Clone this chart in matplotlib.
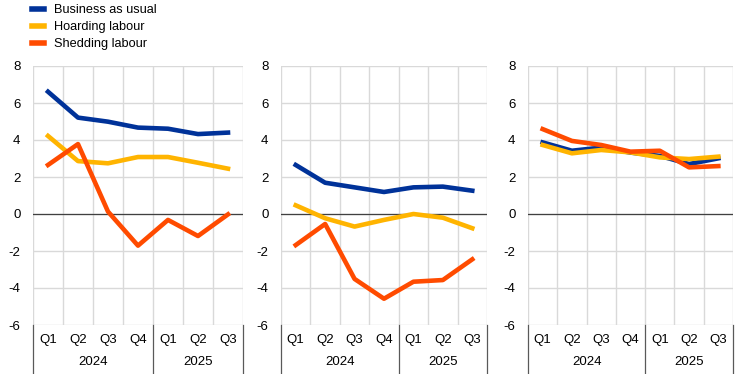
import matplotlib
matplotlib.use('Agg')
import matplotlib.pyplot as plt
from matplotlib.lines import Line2D

plt.rcParams['font.family'] = ['Liberation Sans', 'DejaVu Sans']

# categories
quarters = ['Q1', 'Q2', 'Q3', 'Q4', 'Q1', 'Q2', 'Q3']
years = ['2024', '2025']
year_spans = [(0, 4), (4, 7)]

series_names = ['Business as usual', 'Hoarding labour', 'Shedding labour']
colors = ['#003299', '#FFB400', '#FF4B00']

# panel 1
p1_bau = [6.61, 5.21, 4.99, 4.67, 4.61, 4.32, 4.40]
p1_hoard = [4.22, 2.86, 2.74, 3.08, 3.08, 2.77, 2.45]
p1_shed = [2.65, 3.78, 0.13, -1.71, -0.32, -1.19, -0.02]

# panel 2
p2_bau = [2.65, 1.69, 1.44, 1.19, 1.44, 1.48, 1.26]
p2_hoard = [0.47, -0.23, -0.68, -0.32, 0.0, -0.20, -0.77]
p2_shed = [-1.68, -0.54, -3.51, -4.58, -3.66, -3.57, -2.45]

# panel 3
p3_bau = [3.87, 3.42, 3.59, 3.32, 3.14, 2.70, 3.01]
p3_hoard = [3.73, 3.28, 3.46, 3.33, 3.06, 2.97, 3.10]
p3_shed = [4.59, 3.95, 3.73, 3.37, 3.42, 2.52, 2.59]

panels = [(p1_bau, p1_hoard, p1_shed),
          (p2_bau, p2_hoard, p2_shed),
          (p3_bau, p3_hoard, p3_shed)]

fig = plt.figure(figsize=(7.44, 3.74), dpi=100)

W, H = 744, 374
boxes = [(33, 210), (281, 206), (528, 205)]
top_px, bot_px = 66, 325
ah = (bot_px - top_px) / H

grid_col = '#d9d9d9'
sep_col = '#595959'

for (left, width), data in zip(boxes, panels):
    ax = fig.add_axes([left / W, 1 - bot_px / H, width / W, ah])
    x = list(range(len(quarters)))
    for vals, c in zip(data, colors):
        ax.plot(x, vals, color=c, lw=3.3, solid_joinstyle='round', zorder=3)
    ax.set_xlim(-0.5, len(quarters) - 0.5)
    ax.set_ylim(-6, 8)
    ax.set_yticks(range(-6, 9, 2))
    ax.set_yticklabels([str(v) for v in range(-6, 9, 2)])
    ax.set_xticks([])
    ax.set_xticks([i - 0.5 for i in range(len(quarters) + 1)], minor=True)
    ax.grid(True, which='minor', axis='x', color=grid_col, lw=1)
    ax.grid(True, which='major', axis='y', color=grid_col, lw=1)
    ax.tick_params(axis='y', length=0, pad=9, labelsize=9.5, labelcolor='#000000')
    ax.tick_params(axis='x', which='both', length=0)
    for s in ax.spines.values():
        s.set_visible(False)
    ax.axhline(0, color='#404040', lw=0.9, zorder=2)

    # category labels
    hpx = bot_px - top_px
    for i, q in enumerate(quarters):
        ax.text(i, -15 / hpx, q, transform=ax.get_xaxis_transform(),
                ha='center', va='center', fontsize=9.5)
    for (a, b), yr in zip(year_spans, years):
        ax.text((a + b) / 2 - 0.5, -37 / hpx, yr, transform=ax.get_xaxis_transform(),
                ha='center', va='center', fontsize=9.5)
    for xb in [-0.5, 3.5, 6.5]:
        ax.plot([xb, xb], [0, -49 / hpx], transform=ax.get_xaxis_transform(),
                color=sep_col, lw=0.9, clip_on=False)

handles = [Line2D([0], [0], color=c, lw=4) for c in colors]
fig.legend(handles, series_names, loc='upper left', bbox_to_anchor=(31 / W, 1 - 3 / H),
           frameon=False, fontsize=9.2, handlelength=0.95, handletextpad=0.75,
           labelspacing=0.38, borderaxespad=0.0, borderpad=0.1)

fig.savefig('out.png', dpi=100)
